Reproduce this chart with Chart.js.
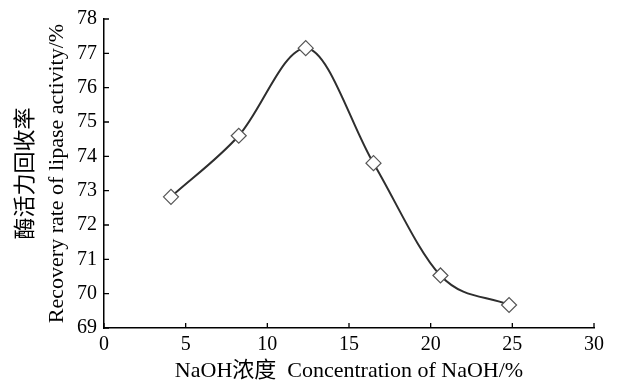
<!DOCTYPE html>
<html>
<head>
<meta charset="utf-8">
<script src="https://cdn.jsdelivr.net/npm/chart.js@4"></script>
<style>
  html, body { margin: 0; padding: 0; background: #fff; }
  #wrap { width: 630px; height: 382px; }
</style>
</head>
<body>
<div id="wrap"><canvas id="c" width="630" height="382"></canvas></div>
<script>
// NaOH concentration (%) and recovery rate of lipase activity (%)
const concentration = [4.1, 8.25, 12.35, 16.5, 20.6, 24.8];
const recovery = [72.82, 74.6, 77.15, 73.8, 70.53, 69.67];

// axis ranges and tick steps
const xRange = [0, 30];
const xStep = 5;
const yRange = [69, 78];
const yStep = 1;

const xTitle = 'NaOH浓度  Concentration of NaOH/%';
const yTitle = ['酶活力回收率', 'Recovery rate of lipase activity/%'];

const FONT = '"Liberation Serif", "Times New Roman", "Noto Sans CJK SC", serif';

// short tick marks pointing into the plot area
const inwardTicks = {
  id: 'inwardTicks',
  afterDraw(chart) {
    const ctx = chart.ctx;
    const xs = chart.scales.x, ys = chart.scales.y;
    const len = 5;
    ctx.save();
    ctx.strokeStyle = '#000';
    ctx.lineWidth = 1.3;
    ctx.beginPath();
    xs.ticks.forEach(t => {
      const px = xs.getPixelForValue(t.value);
      ctx.moveTo(px, xs.top);
      ctx.lineTo(px, xs.top - len);
    });
    ys.ticks.forEach(t => {
      const py = ys.getPixelForValue(t.value);
      ctx.moveTo(ys.right, py);
      ctx.lineTo(ys.right + len, py);
    });
    ctx.stroke();
    ctx.restore();
  }
};

new Chart(document.getElementById('c'), {
  type: 'line',
  data: {
    datasets: [{
      data: concentration.map((x, i) => ({ x, y: recovery[i] })),
      borderColor: '#2e2e2e',
      borderWidth: 2,
      cubicInterpolationMode: 'monotone',
      pointStyle: 'rectRot',
      pointRadius: 7.5,
      pointBackgroundColor: '#fff',
      pointBorderColor: '#555',
      pointBorderWidth: 1.2,
      clip: false
    }]
  },
  options: {
    responsive: false,
    animation: false,
    devicePixelRatio: 1,
    layout: { padding: { top: 17, right: 36, left: 0, bottom: 0 } },
    plugins: { legend: { display: false }, tooltip: { enabled: false } },
    scales: {
      x: {
        type: 'linear',
        min: xRange[0], max: xRange[1],
        ticks: { stepSize: xStep, color: '#000', padding: 5, font: { family: FONT, size: 20 } },
        grid: { drawOnChartArea: false, drawTicks: false },
        border: { display: true, color: '#000', width: 1.5 },
        title: { display: true, text: xTitle, color: '#000', padding: { top: 0, bottom: 0 },
                 font: { family: FONT, size: 22, lineHeight: 1.0 } },
        afterFit(scale) { scale.height = 54; }
      },
      y: {
        min: yRange[0], max: yRange[1],
        ticks: { stepSize: yStep, color: '#000', padding: 7, font: { family: FONT, size: 20 } },
        grid: { drawOnChartArea: false, drawTicks: false },
        border: { display: true, color: '#000', width: 1.5 },
        title: { display: true, text: yTitle, color: '#000', padding: { top: 10.5, bottom: 0 },
                 font: { family: FONT, size: 22, lineHeight: 1.41 } },
        afterFit(scale) { scale.width = 104; }
      }
    }
  },
  plugins: [inwardTicks]
});
</script>
</body>
</html>
